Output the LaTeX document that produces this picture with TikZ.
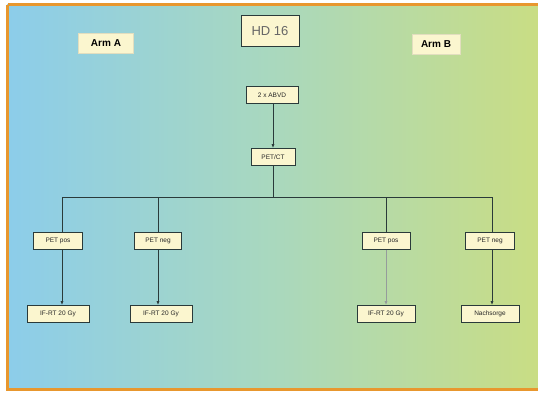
\documentclass[tikz,border=0pt]{standalone}
\usepackage{fontspec}
\setmainfont{Liberation Sans}
\usetikzlibrary{arrows.meta,shadings}
\definecolor{frameorange}{HTML}{E8972E}
\definecolor{bgleft}{HTML}{8CCDEA}
\definecolor{bgmid}{HTML}{A9D8BE}
\definecolor{bgright}{HTML}{C9DD84}
\definecolor{boxfill}{HTML}{FBF6CF}
\definecolor{linecol}{HTML}{2A3A3A}
\tikzset{
  box/.style={draw=linecol, line width=0.7pt, fill=boxfill, inner sep=0pt,
    minimum height=17pt, font=\fontsize{6.5}{7}\selectfont, text=black!85},
  armbox/.style={box, font=\fontsize{10}{11}\selectfont\bfseries, text=black,
    draw=boxfill!80!gray, minimum height=20pt},
  titlebox/.style={box, font=\fontsize{13}{14}\selectfont, text=black!60,
    line width=0.9pt, minimum height=31pt},
  link/.style={draw=linecol, line width=0.8pt},
  arr/.style={link, -{Latex[length=4pt,width=3pt]}},
}
\begin{document}
\begin{tikzpicture}[x=1pt,y=-1pt]
  \useasboundingbox (0,0) rectangle (538,392);
  % backdrop with horizontal colour gradient inside an orange frame
  \fill[white] (0,0) rectangle (538,392);
  \shade[left color=bgleft, right color=bgright, middle color=bgmid]
    (7,4) rectangle (538,390);
  \draw[frameorange, line width=3pt] (7.5,4.5) -- (538,4.5);
  \draw[frameorange, line width=3pt] (7.5,4.5) -- (7.5,389.5) -- (538,389.5);

  % headings
  \node[armbox, minimum width=55pt] (armA) at (106,43) {Arm A};
  \node[titlebox, minimum width=58pt] (title) at (270,31) {HD 16};
  \node[armbox, minimum width=48pt] (armB) at (436,44) {Arm B};

  % induction and restaging
  \node[box, minimum width=52pt] (chemo) at (272,95) {2 x ABVD};
  \node[box, minimum width=44pt] (pet) at (273,157) {PET/CT};

  % PET results
  \node[box, minimum width=49pt] (petA1) at (58,241) {PET pos};
  \node[box, minimum width=47pt] (petA2) at (158,241) {PET neg};
  \node[box, minimum width=48pt] (petB1) at (386,241) {PET pos};
  \node[box, minimum width=49pt] (petB2) at (490,241) {PET neg};

  % treatment after PET
  \node[box, minimum width=62pt] (rtA1) at (58,314) {IF-RT 20 Gy};
  \node[box, minimum width=62pt] (rtA2) at (161,314) {IF-RT 20 Gy};
  \node[box, minimum width=58pt] (rtB1) at (386,314) {IF-RT 20 Gy};
  \node[box, minimum width=58pt] (obsB2) at (490,314) {Nachsorge};

  % connectors
  \draw[arr] (chemo.south -| pet.north) -- (pet.north);
  \coordinate (split) at (273,197);
  \draw[link] (pet) -- (split);
  \draw[link] (petA1.north -| 62,0) |- (split);
  \draw[link] (petA2.north) |- (split);
  \draw[link] (petB1.north) |- (split);
  \draw[link] (petB2.north -| 492,0) |- (split);

  \draw[arr] (petA1.south -| 62,0) -- (rtA1.north -| 62,0);
  \draw[arr] (petA2.south) -- (rtA2.north -| petA2.south);
  \draw[arr, draw=linecol!50] (petB1.south) -- (rtB1.north);
  \draw[arr] (petB2.south -| 492,0) -- (obsB2.north -| 492,0);
\end{tikzpicture}
\end{document}
